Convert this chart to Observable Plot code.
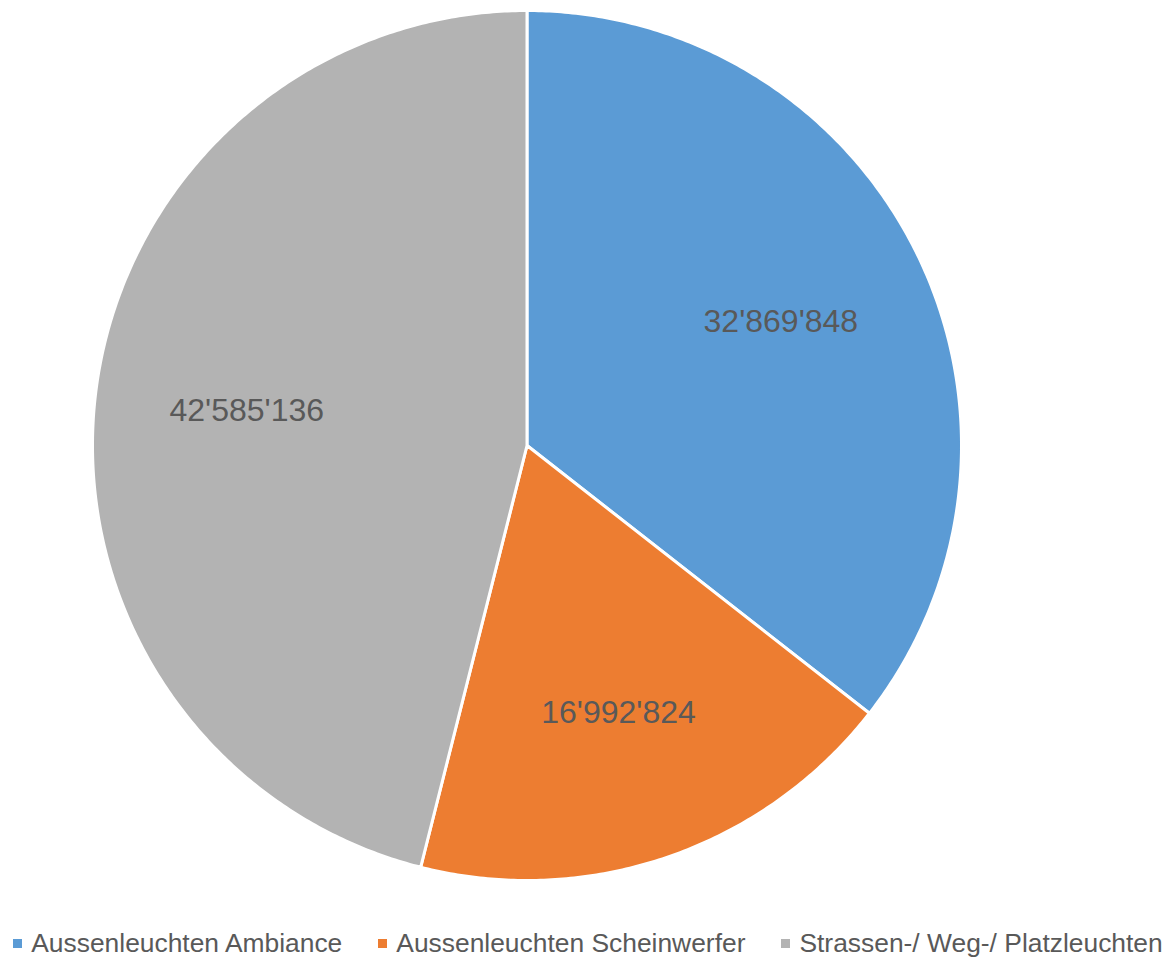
<!DOCTYPE html>
<html>
<head>
<meta charset="utf-8">
<script src="https://cdn.jsdelivr.net/npm/d3@7"></script>
<script src="https://cdn.jsdelivr.net/npm/@observablehq/plot@0.6"></script>
<style>
  html, body { margin: 0; padding: 0; background: #fff; }
  body { width: 1176px; height: 958px; overflow: hidden; font-family: "Liberation Sans", Arial, sans-serif; }
  #legend { display: flex; justify-content: center; gap: 36px; margin-top: 28px; font-size: 26.4px; line-height: 30px; color: #595959; }
  .item { display: flex; align-items: center; white-space: nowrap; }
  .sw { width: 9px; height: 9px; margin-right: 9px; }
</style>
</head>
<body>
<div id="chart"></div>
<div id="legend"></div>
<script>
const categories = ["Aussenleuchten Ambiance", "Aussenleuchten Scheinwerfer", "Strassen-/ Weg-/ Platzleuchten"];
const values = [32869848, 16992824, 42585136];
const colors = ["#5B9BD5", "#ED7D31", "#B3B3B3"];

const total = d3.sum(values);
const fmt = v => d3.format(",")(v).replace(/,/g, "'");

// slice table: angles clockwise from 12 o'clock
let acc = 0;
const slices = categories.map((c, i) => {
  const a0 = acc / total * 2 * Math.PI;
  acc += values[i];
  const a1 = acc / total * 2 * Math.PI;
  return {cat: c, value: values[i], a0, a1, mid: (a0 + a1) / 2};
});

// polygon outline of each slice (center + arc sampled along its angle span)
const outline = [];
for (const s of slices) {
  outline.push({cat: s.cat, x: 0, y: 0});
  const n = Math.max(2, Math.ceil((s.a1 - s.a0) / (Math.PI / 360)));
  for (let k = 0; k <= n; k++) {
    const a = s.a0 + (s.a1 - s.a0) * k / n;
    outline.push({cat: s.cat, x: Math.sin(a), y: Math.cos(a)});
  }
}

const labelR = 0.65;
const chart = Plot.plot({
  width: 1176,
  height: 900,
  marginLeft: 92,
  marginRight: 215,
  marginTop: 10,
  marginBottom: 20,
  x: {domain: [-1, 1], axis: null},
  y: {domain: [-1, 1], axis: null},
  color: {domain: categories, range: colors},
  style: {fontFamily: "'Liberation Sans', Arial, sans-serif", background: "#fff"},
  marks: [
    Plot.line(outline, {x: "x", y: "y", z: "cat", fill: "cat", stroke: "#fff", strokeWidth: 3, curve: "linear-closed", strokeLinejoin: "round"}),
    Plot.text(slices, {
      x: d => labelR * Math.sin(d.mid),
      y: d => labelR * Math.cos(d.mid),
      text: d => fmt(d.value),
      fontSize: 32,
      fill: "#595959"
    })
  ]
});
document.getElementById("chart").appendChild(chart);

const legend = d3.select("#legend");
categories.forEach((c, i) => {
  const it = legend.append("div").attr("class", "item");
  it.append("div").attr("class", "sw").style("background", colors[i]);
  it.append("span").text(c);
});
</script>
</body>
</html>
